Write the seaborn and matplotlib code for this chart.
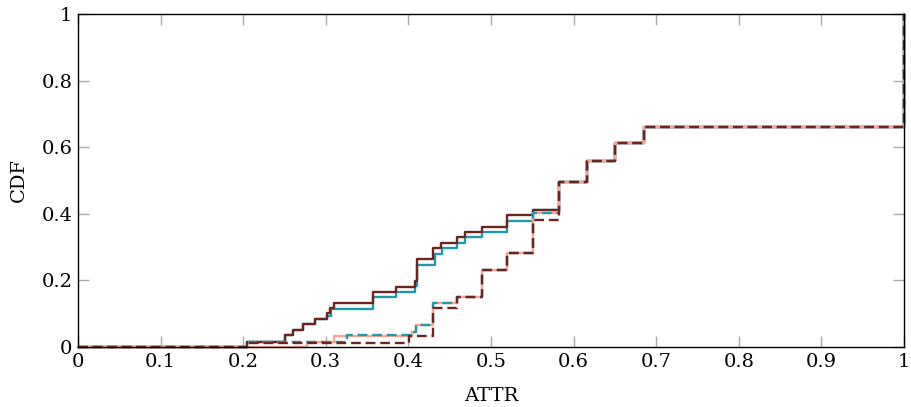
import matplotlib
matplotlib.use("Agg")
import matplotlib.pyplot as plt
import seaborn as sns
import pandas as pd

# ---- data: step CDF breakpoints (steps-post) ----
brown_x = [0, 0.2046, 0.2506, 0.2599, 0.2728, 0.2869, 0.3011, 0.3051, 0.3099, 0.3575, 0.3850,
           0.4080, 0.4108, 0.4300, 0.4395, 0.4590, 0.4685, 0.4887, 0.5190, 0.5505, 0.5827,
           0.6158, 0.6500, 0.6856, 1.0]
brown_y = [0, 0.015, 0.036, 0.051, 0.069, 0.083, 0.101, 0.116, 0.131, 0.165, 0.181,
           0.198, 0.264, 0.296, 0.313, 0.329, 0.344, 0.361, 0.396, 0.411, 0.495,
           0.559, 0.613, 0.661, 1.0]

teal_x = [0, 0.2046, 0.2506, 0.2599, 0.2728, 0.2869, 0.3011, 0.3060, 0.3575, 0.3850,
          0.4080, 0.4108, 0.4325, 0.4405, 0.4590, 0.4685, 0.4887, 0.5190, 0.5505, 0.5827,
          0.6158, 0.6500, 0.6856, 1.0]
teal_y = [0, 0.015, 0.036, 0.051, 0.069, 0.083, 0.092, 0.113, 0.149, 0.164,
          0.183, 0.246, 0.279, 0.296, 0.313, 0.329, 0.346, 0.378, 0.411, 0.495,
          0.559, 0.613, 0.661, 1.0]

salmon_x = [0, 0.2776, 0.3100, 0.4039, 0.4090, 0.4300, 0.4590, 0.4887, 0.5190, 0.5505,
            0.5827, 0.6158, 0.6500, 0.6856, 1.0]
salmon_y = [0, 0.016, 0.034, 0.046, 0.066, 0.131, 0.149, 0.231, 0.281, 0.401,
            0.495, 0.559, 0.613, 0.661, 1.0]

tealdash_x = [0, 0.2046, 0.3253, 0.4039, 0.4090, 0.4300, 0.4590, 0.4887, 0.5190, 0.5505,
              0.5827, 0.6158, 0.6500, 0.6856, 1.0]
tealdash_y = [0, 0.016, 0.036, 0.046, 0.066, 0.131, 0.149, 0.231, 0.281, 0.401,
              0.495, 0.559, 0.613, 0.661, 1.0]

browndash_x = [0, 0.2046, 0.4010, 0.4300, 0.4590, 0.4887, 0.5190, 0.5505, 0.5827,
               0.6158, 0.6500, 0.6856, 1.0]
browndash_y = [0, 0.012, 0.034, 0.116, 0.149, 0.231, 0.281, 0.380, 0.495,
               0.559, 0.613, 0.661, 1.0]

x_ticks = [0, 0.1, 0.2, 0.3, 0.4, 0.5, 0.6, 0.7, 0.8, 0.9, 1]
x_ticklabels = ["0", "0.1", "0.2", "0.3", "0.4", "0.5", "0.6", "0.7", "0.8", "0.9", "1"]
y_ticks = [0, 0.2, 0.4, 0.6, 0.8, 1]
y_ticklabels = ["0", "0.2", "0.4", "0.6", "0.8", "1"]

TEAL = "#1f9aab"
BROWN = "#6d2420"
SALMON = "#ffa294"

sns.set_theme(style="white")
plt.rcParams["font.family"] = ["DejaVu Serif"]
plt.rcParams["lines.scale_dashes"] = False

fig = plt.figure(figsize=(9.11, 4.07), dpi=100)
ax = fig.add_axes([78 / 911, 60 / 407, 826 / 911, 333 / 407])

series = [
    (teal_x, teal_y, TEAL, None),
    (brown_x, brown_y, BROWN, None),
    (salmon_x, salmon_y, SALMON, None),
    (tealdash_x, tealdash_y, TEAL, [7.0, 3.5]),
    (browndash_x, browndash_y, BROWN, [7.0, 3.5]),
]
for xs, ys, col, dash in series:
    df = pd.DataFrame({"x": xs, "y": ys})
    sns.lineplot(data=df, x="x", y="y", ax=ax, color=col, linewidth=1.7,
                 drawstyle="steps-post", estimator=None, sort=False, legend=False)
    ln = ax.lines[-1]
    ln.set_clip_on(False)
    if dash is not None:
        ln.set_dashes(dash)

ax.set_xlim(0, 1)
ax.set_ylim(0, 1)
ax.set_xticks(x_ticks)
ax.set_xticklabels(x_ticklabels)
ax.set_yticks(y_ticks)
ax.set_yticklabels(y_ticklabels)
ax.tick_params(axis="both", which="both", direction="in", length=8, width=1,
               color="#aaaaaa", labelsize=14, labelcolor="black",
               top=True, right=True, bottom=True, left=True, pad=4)
for s in ax.spines.values():
    s.set_color("black")
    s.set_linewidth(1.0)
ax.set_xlabel("ATTR", fontsize=14, color="black", labelpad=12)
ax.set_ylabel("CDF", fontsize=14, color="black", labelpad=10)

fig.savefig("out.png", dpi=100)
